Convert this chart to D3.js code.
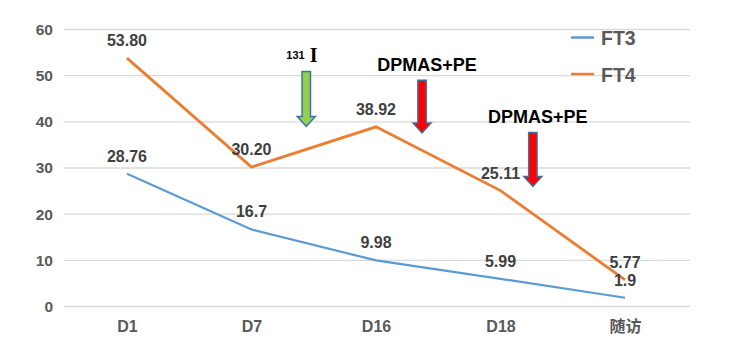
<!DOCTYPE html>
<html><head><meta charset="utf-8">
<script src="https://cdn.jsdelivr.net/npm/d3@7"></script>
<style>body{margin:0;background:#fff}svg{display:block}</style>
</head><body>
<svg id="c" width="744" height="357"></svg>
<script>
const categories = ["D1", "D7", "D16", "D18", "随访"];
const ft3 = [28.76, 16.7, 9.98, 5.99, 1.9];
const ft4 = [53.80, 30.20, 38.92, 25.11, 5.77];
const ft3Labels = ["28.76", "16.7", "9.98", "5.99", "1.9"];
const ft4Labels = ["53.80", "30.20", "38.92", "25.11", "5.77"];
const yTicks = [0, 10, 20, 30, 40, 50, 60];
const seriesNames = ["FT3", "FT4"];
// annotations: arrow between categories (index + offset), top/bottom values
const arrows = [
  {pos: 1.44, top: 50.9, bottom: 39.0, fill: "#92D050", text: null},
  {pos: 2.37, top: 49.0, bottom: 37.6, fill: "#FF0000", text: "DPMAS+PE"},
  {pos: 3.26, top: 37.7, bottom: 26.0, fill: "#FF0000", text: "DPMAS+PE"}
];

const svg = d3.select("#c");
const font = "'Liberation Sans', Arial, sans-serif";
const x = d3.scalePoint().domain(categories).range([127, 625]);
const y = d3.scaleLinear().domain([0, 60]).range([306.5, 29.5]);
const xi = i => 127 + i * (625 - 127) / 4;

// gridlines
svg.append("g").selectAll("line").data(yTicks).join("line")
  .attr("x1", 64).attr("x2", 690)
  .attr("y1", d => y(d)).attr("y2", d => y(d))
  .attr("stroke", "#D9D9D9").attr("stroke-width", 1.3);

// y axis
const yAxis = d3.axisLeft(y).tickValues(yTicks).tickSize(0).tickPadding(0);
const gy = svg.append("g").attr("transform", "translate(53,0)").call(yAxis);
gy.select(".domain").remove();
gy.selectAll("text").attr("font-family", font).attr("font-weight", "bold")
  .attr("font-size", 15.5).attr("fill", "#595959");

// x axis
const xAxis = d3.axisBottom(x).tickSize(0).tickPadding(0);
const gx = svg.append("g").attr("transform", "translate(0,321)").call(xAxis);
gx.select(".domain").remove();
gx.selectAll("text").attr("font-family", d => d === "随访" ? "'Noto Sans CJK SC', sans-serif" : font)
  .attr("font-weight", "bold").attr("font-size", 16).attr("fill", "#595959");

const line = d3.line().x((d, i) => x(categories[i])).y(d => y(d));
svg.append("path").datum(ft3).attr("d", line).attr("fill", "none")
  .attr("stroke", "#5B9BD5").attr("stroke-width", 2.2);
svg.append("path").datum(ft4).attr("d", line).attr("fill", "none")
  .attr("stroke", "#ED7D31").attr("stroke-width", 2.8);

function labels(vals, texts) {
  svg.append("g").selectAll("text").data(vals).join("text")
    .attr("x", (d, i) => x(categories[i])).attr("y", d => y(d) - 12)
    .attr("text-anchor", "middle").attr("font-family", font).attr("font-weight", "bold")
    .attr("font-size", 16).attr("fill", "#404040").text((d, i) => texts[i]);
}
labels(ft3, ft3Labels);
labels(ft4, ft4Labels);

// legend
const legColors = ["#5B9BD5", "#ED7D31"];
const legY = [37.5, 74];
seriesNames.forEach((n, i) => {
  svg.append("line").attr("x1", 571).attr("x2", 594).attr("y1", legY[i]).attr("y2", legY[i])
    .attr("stroke", legColors[i]).attr("stroke-width", 2.5);
  svg.append("text").attr("x", 601).attr("y", legY[i] + 7.5).attr("font-family", font)
    .attr("font-weight", "bold").attr("font-size", 19.5).attr("fill", "#595959").text(n);
});

// arrows
arrows.forEach(a => {
  const cx = xi(a.pos), t = y(a.top), b = y(a.bottom);
  const sw = 4.2, hw = 9, hh = 10;
  const p = `M${cx - sw},${t} L${cx + sw},${t} L${cx + sw},${b - hh} L${cx + hw},${b - hh} L${cx},${b} L${cx - hw},${b - hh} L${cx - sw},${b - hh} Z`;
  svg.append("path").attr("d", p).attr("fill", a.fill).attr("stroke", "#41719C").attr("stroke-width", 1.5);
  if (a.text) {
    svg.append("text").attr("x", cx + 5).attr("y", t - 9).attr("text-anchor", "middle")
      .attr("font-family", font).attr("font-weight", "bold").attr("font-size", 18)
      .attr("fill", "#000").text(a.text);
  } else {
    const tx = svg.append("text").attr("x", cx - 20).attr("y", t - 13).attr("font-weight", "bold").attr("fill", "#000");
    tx.append("tspan").attr("font-family", font).attr("font-size", 11).text("131");
    tx.append("tspan").attr("dx", 5).attr("dy", 3).attr("font-family", "'Liberation Serif', 'Times New Roman', serif").attr("font-size", 20).text("I");
  }
});
</script>
</body></html>
